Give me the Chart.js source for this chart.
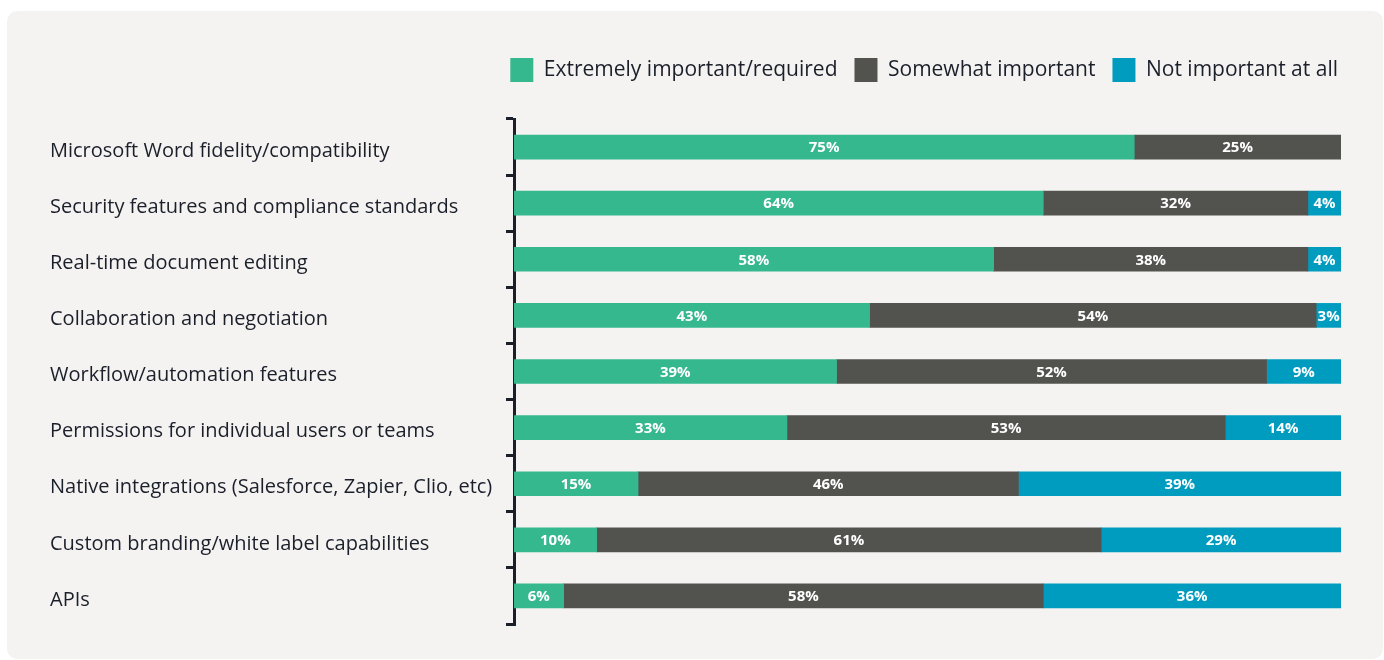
<!DOCTYPE html>
<html>
<head>
<meta charset="utf-8">
<script src="https://cdn.jsdelivr.net/npm/chart.js@4"></script>
<style>
  html, body { margin: 0; padding: 0; background: #ffffff; }
  #wrap { position: relative; width: 1384px; height: 660px; }
  #card { position: absolute; left: 7px; top: 11px; width: 1376px; height: 648px; background: #f4f3f1; border-radius: 10px; }
  #c { position: absolute; left: 0; top: 0; }
</style>
</head>
<body>
<div id="wrap">
  <div id="card"></div>
  <canvas id="c" width="1384" height="660"></canvas>
</div>
<script>
const categories = [
  "Microsoft Word fidelity/compatibility",
  "Security features and compliance standards",
  "Real-time document editing",
  "Collaboration and negotiation",
  "Workflow/automation features",
  "Permissions for individual users or teams",
  "Native integrations (Salesforce, Zapier, Clio, etc)",
  "Custom branding/white label capabilities",
  "APIs"
];
const seriesNames = ["Extremely important/required", "Somewhat important", "Not important at all"];
const extremelyImportant = [75, 64, 58, 43, 39, 33, 15, 10, 6];
const somewhatImportant  = [25, 32, 38, 54, 52, 53, 46, 61, 58];
const notImportant       = [0, 4, 4, 3, 9, 14, 39, 29, 36];

const colors = ["#36b88f", "#52534f", "#009cc0"];
const textColor = "#1b1f2a";

const valueLabels = {
  id: 'valueLabels',
  afterDatasetsDraw(chart) {
    const ctx = chart.ctx;
    ctx.save();
    ctx.font = "bold 15px 'Open Sans'";
    ctx.fillStyle = "#ffffff";
    ctx.textAlign = "center";
    ctx.textBaseline = "middle";
    chart.data.datasets.forEach((ds, di) => {
      const meta = chart.getDatasetMeta(di);
      meta.data.forEach((bar, i) => {
        const v = ds.data[i];
        if (!v) return;
        const cx = (bar.x + bar.base) / 2;
        ctx.fillText(v + "%", cx, bar.y + 1);
      });
    });
    ctx.restore();
  }
};

const legendSpacing = {
  id: 'legendSpacing',
  beforeInit(chart) {
    const lg = chart.legend;
    if (!lg) return;
    const origFit = lg.fit;
    lg.fit = function () {
      origFit.call(this);
      this.height += 27;
    };
    const origDraw = lg.draw;
    lg.draw = function (...args) {
      const ctx = this.ctx;
      ctx.save();
      ctx.translate(14, 0);
      origDraw.apply(this, args);
      ctx.restore();
    };
  }
};

new Chart(document.getElementById('c'), {
  type: 'bar',
  data: {
    labels: categories,
    datasets: [
      { label: seriesNames[0], data: extremelyImportant, backgroundColor: colors[0] },
      { label: seriesNames[1], data: somewhatImportant, backgroundColor: colors[1] },
      { label: seriesNames[2], data: notImportant, backgroundColor: colors[2] }
    ]
  },
  options: {
    indexAxis: 'y',
    responsive: false,
    animation: false,
    devicePixelRatio: 1,
    layout: { padding: { left: 50, right: 43, top: 41, bottom: 36 } },
    datasets: { bar: { barThickness: 24, borderWidth: 0 } },
    scales: {
      x: { stacked: true, min: 0, max: 100, display: false },
      y: {
        stacked: true,
        afterFit(scale) { scale.width = 464; },
        border: { display: true, color: textColor, width: 3 },
        grid: { drawOnChartArea: false, color: textColor, lineWidth: 3, tickLength: 8, offset: true },
        ticks: { crossAlign: 'far', color: textColor, font: { family: "'Open Sans'", size: 20 }, padding: 10, labelOffset: 4 }
      }
    },
    plugins: {
      legend: {
        position: 'top',
        align: 'end',
        labels: {
          boxWidth: 23, boxHeight: 24, padding: 17,
          color: textColor,
          font: { family: "'Open Sans'", size: 21 }
        }
      },
      tooltip: { enabled: false }
    }
  },
  plugins: [legendSpacing, valueLabels]
});
</script>
</body>
</html>
